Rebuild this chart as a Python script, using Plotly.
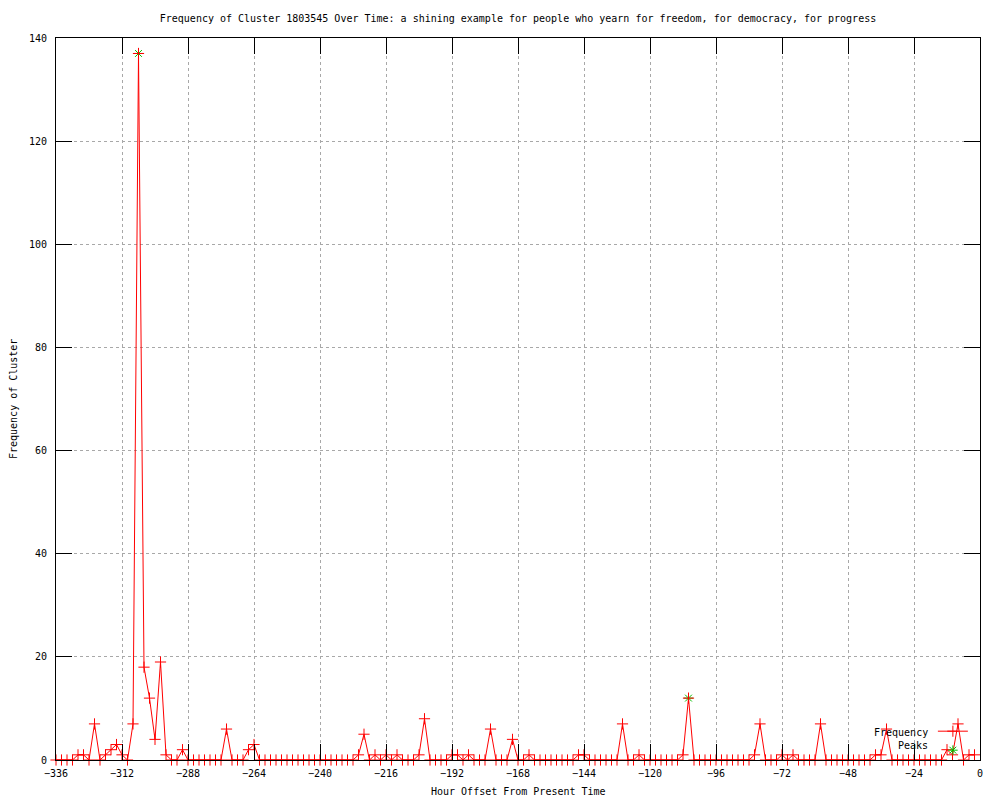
import plotly.graph_objects as go

# hour offsets, one sample every 2 hours
hours = list(range(-336, 0, 2))

# frequency per sample, 12 samples (24 h) per row, starting at -336
counts = [
    0, 0, 0, 0, 1, 1, 0, 7, 0, 1, 2, 3,        # -336 .. -314
    1, 0, 7, 137, 18, 12, 4, 19, 1, 0, 0, 2,   # -312 .. -290
    0, 0, 0, 0, 0, 0, 0, 6, 0, 0, 0, 2,        # -288 .. -266
    3, 0, 0, 0, 0, 0, 0, 0, 0, 0, 0, 0,        # -264 .. -242
    0, 0, 0, 0, 0, 0, 0, 1, 5, 0, 1, 0,        # -240 .. -218
    1, 0, 1, 0, 0, 0, 1, 8, 0, 0, 0, 0,        # -216 .. -194
    1, 1, 0, 1, 0, 0, 0, 6, 0, 0, 0, 4,        # -192 .. -170
    0, 0, 1, 0, 0, 0, 0, 0, 0, 0, 0, 1,        # -168 .. -146
    1, 0, 0, 0, 0, 0, 0, 7, 0, 0, 1, 0,        # -144 .. -122
    0, 0, 0, 0, 0, 0, 1, 12, 0, 0, 0, 0,       # -120 .. -98
    0, 0, 0, 0, 0, 0, 0, 1, 7, 0, 0, 0,        # -96 .. -74
    1, 0, 1, 0, 0, 0, 0, 7, 0, 0, 0, 0,        # -72 .. -50
    0, 0, 0, 0, 0, 1, 1, 6, 0, 0, 0, 0,        # -48 .. -26
    0, 0, 0, 0, 0, 0, 2, 1, 7, 0, 1, 1,        # -24 .. -2
]

peak_hours = [-306, -106]
peak_values = [137, 12]

x_ticks = [-336, -312, -288, -264, -240, -216, -192, -168, -144, -120, -96, -72, -48, -24, 0]
y_ticks = [0, 20, 40, 60, 80, 100, 120, 140]

title = ("Frequency of Cluster 1803545 Over Time: a shining example for people "
         "who yearn for freedom, for democracy, for progress")

mono = "DejaVu Sans Mono"
txt = dict(family=mono, size=10, color='black')
green = '#00c000'

fig = go.Figure()
# peaks drawn first so the red crosses sit on top, legend order kept by legendrank
fig.add_trace(go.Scatter(x=peak_hours, y=peak_values, mode='markers', name=' ',
                         legendrank=2,
                         marker=dict(symbol='asterisk-open', size=8, color=green,
                                     line=dict(color=green, width=1)),
                         cliponaxis=False))
fig.add_trace(go.Scatter(x=hours, y=counts, mode='lines+markers', name=' ',
                         legendrank=1,
                         line=dict(color='red', width=1),
                         marker=dict(symbol='cross-thin-open', size=8, color='red',
                                     line=dict(color='red', width=1)),
                         cliponaxis=False))

axis_style = dict(showline=True, linecolor='black', linewidth=1, mirror='ticks',
                  ticks='inside', ticklen=16, tickwidth=1, tickcolor='black',
                  showgrid=True, gridcolor='#a8a8a8', griddash='dot', gridwidth=1,
                  zeroline=False, automargin=False, tickfont=txt)

fig.update_xaxes(range=[-336, 0], tickmode='array', tickvals=x_ticks,
                 ticklabelstandoff=4, **axis_style)
fig.update_yaxes(range=[0, 140], tickmode='array', tickvals=y_ticks,
                 ticklabelstandoff=6, **axis_style)

# axis titles
fig.add_annotation(text='Hour Offset From Present Time', xref='paper', yref='paper',
                   x=0.5, y=-0.0443, xanchor='center', yanchor='middle',
                   showarrow=False, font=txt)
fig.add_annotation(text='Frequency of Cluster', xref='paper', yref='paper',
                   x=-0.0465, y=0.5, xanchor='center', yanchor='middle',
                   textangle=-90, showarrow=False, font=txt)

# gnuplot style key: text on the left, sample on the right
fig.add_annotation(text='Frequency', xref='paper', yref='paper', x=0.9459, y=0.0374,
                   xanchor='right', yanchor='middle', showarrow=False, font=txt)
fig.add_annotation(text='Peaks', xref='paper', yref='paper', x=0.9459, y=0.0194,
                   xanchor='right', yanchor='middle', showarrow=False, font=txt)

# the page body has an 8px margin, so the figure is 8px smaller each way
fig.update_layout(width=992, height=792,
                  margin=dict(l=48, r=20, t=30, b=40),
                  paper_bgcolor='white', plot_bgcolor='white',
                  font=txt,
                  title=dict(text=title, x=0.5, xref='paper', xanchor='center',
                             y=1 - 10 / 792, yref='container', yanchor='middle',
                             font=txt),
                  showlegend=True,
                  legend=dict(x=0.949, y=0.06, xanchor='left', yanchor='top',
                              bgcolor='rgba(0,0,0,0)', itemwidth=30,
                              font=dict(family=mono, size=10), tracegroupgap=0))

fig.write_html("out.html")
